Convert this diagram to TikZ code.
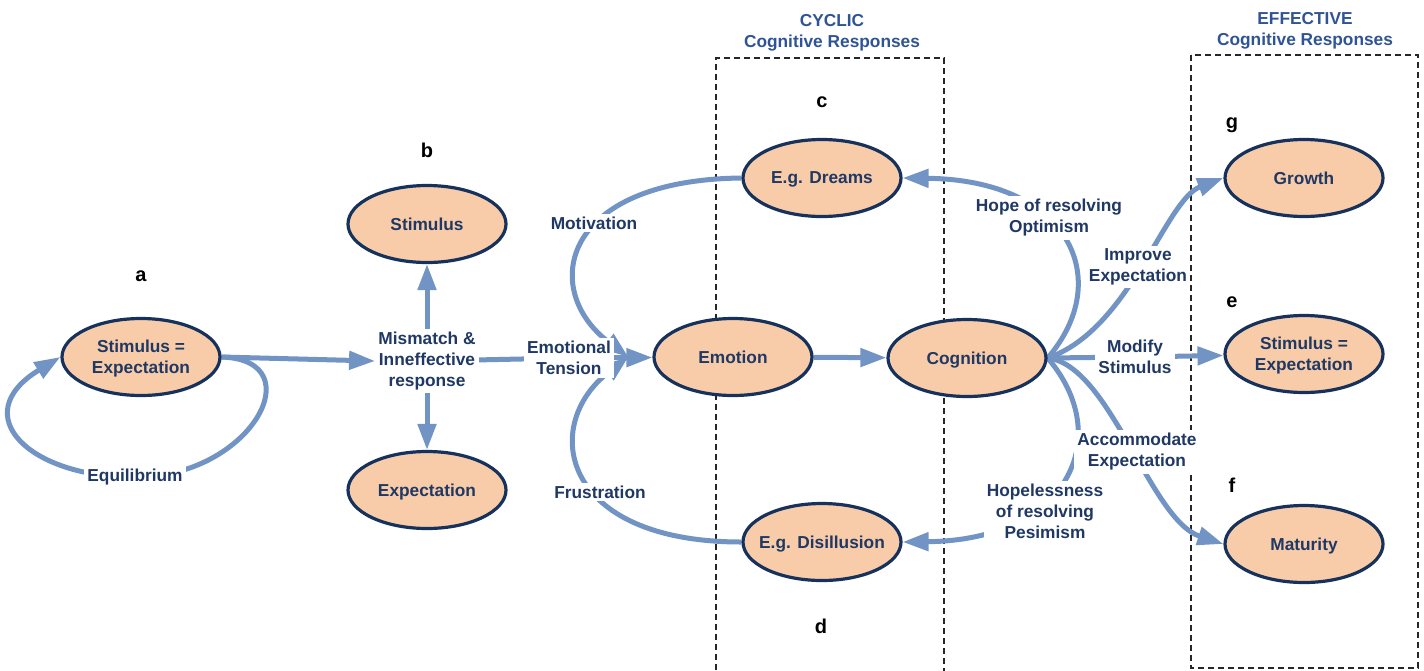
\documentclass[tikz,border=0pt]{standalone}
\usepackage{fontspec}
\setmainfont{Liberation Sans}
\usetikzlibrary{shapes.geometric,arrows.meta}
\pgfdeclarelayer{background}
\pgfsetlayers{background,main}
\definecolor{navy}{RGB}{31,56,100}
\definecolor{edgecol}{RGB}{22,50,92}
\definecolor{peach}{RGB}{248,204,168}
\definecolor{conncol}{RGB}{114,148,196}
\definecolor{ttl}{RGB}{47,84,150}
\newcommand\txtfont{\bfseries\fontsize{8.65}{10.5}\selectfont}
\newcommand\letfont{\bfseries\fontsize{10}{12}\selectfont}
\tikzset{
  state/.style={ellipse, draw=edgecol, line width=1.6pt, fill=peach, minimum width=79pt, minimum height=38.5pt, inner ysep=0pt, inner xsep=-6pt, text depth=0pt, text=navy, font=\txtfont, align=center},
  lbl/.style={text=navy, font=\txtfont, align=center, fill=white, inner sep=1.5pt},
  letter/.style={font=\letfont, anchor=base, text=black, inner sep=0pt},
  ttlstyle/.style={text=ttl, font=\txtfont, align=center, inner sep=0pt},
  flow/.style={draw=conncol, line width=2.5pt, -{Triangle[length=13pt,width=9pt]}},
  plain/.style={draw=conncol, line width=2.5pt},
  frame/.style={draw=black!85, line width=0.6pt, dash pattern=on 3pt off 2pt},
}
\begin{document}
\begin{tikzpicture}[x=0.5pt,y=-0.5pt]
\path[use as bounding box] (0,0) rectangle (1424,670);

% ellipses
\node[state] (a) at (141,357) {Stimulus =\\Expectation};
\node[state] (stim) at (427,224) {Stimulus};
\node[state] (expc) at (427,490) {Expectation};
\node[state] (dream) at (822,178) {E.g. Dreams};
\node[state] (emo) at (733,357) {Emotion};
\node[state] (cog) at (967,358) {Cognition};
\node[state] (dis) at (822,542) {E.g. Disillusion};
\node[state] (grow) at (1304,178) {Growth};
\node[state] (se) at (1304,354) {Stimulus =\\Expectation};
\node[state] (mat) at (1304,544) {Maturity};

% labels
\node[lbl] (eq) at (135,477) {Equilibrium};
\node[lbl] (mm) at (427,361) {Mismatch \&\\Inneffective\\response};
\node[lbl] (et) at (569,358) {Emotional\\Tension};
\node[lbl] (mot) at (594,223) {Motivation};
\node[lbl] (fru) at (600,492) {Frustration};
\node[lbl] (hope) at (1049,218) {Hope of resolving\\Optimism};
\node[lbl] (hopl) at (1045,511) {Hopelessness\\of resolving\\Pesimism};
\node[lbl] (imp) at (1138,267) {Improve\\Expectation};
\node[lbl] (mod) at (1135,357) {Modify\\Stimulus};
\node[lbl] (acc) at (1137,452) {Accommodate\\Expectation};

% titles
\node[ttlstyle] (t1) at (832,33) {CYCLIC\\Cognitive Responses};
\node[ttlstyle] (t2) at (1305,31) {EFFECTIVE\\Cognitive Responses};

% letters
\node[letter] (la) at (141,281) {a};
\node[letter] (lb) at (427,157) {b};
\node[letter] (lc) at (822,107) {c};
\node[letter] (ld) at (821,633) {d};
\node[letter] (lg) at (1232,128) {g};
\node[letter] (le) at (1232,307) {e};
\node[letter] (lf) at (1232,492) {f};

\begin{pgfonlayer}{background}
\draw[frame] (716,680) -- (716,58) -- (944,58) -- (944,680);
\draw[frame] (1191,55) rectangle (1418,668);

\draw[flow] (a.east) .. controls (315,360) and (250,478) .. (eq.center)
            .. controls (30,478) and (-35,415) .. (a.west);
\draw[flow] (a.east) -- (mm.west);
\draw[flow] (mm) -- (stim);
\draw[flow] (mm) -- (expc);
\draw[plain] (mm) -- (et);
\draw[flow] (et) -- (emo);
\draw[flow] (dream.west) .. controls (560,180) and (540,290) .. ([xshift=-12pt]emo.west);
\draw[flow] (dis.west) .. controls (560,542) and (540,425) .. ([xshift=-12pt]emo.west);
\draw[flow] (emo) -- (cog);
\draw[flow] (cog.east) .. controls (1115,280) and (1070,180) .. (dream.east);
\draw[flow] (cog.east) .. controls (1115,436) and (1070,540) .. (dis.east);
\draw[flow] (cog.east) .. controls (1130,330) and (1165,200) .. (grow.west);
\draw[plain] (cog.east) -- (mod);
\draw[flow] (mod) -- (se);
\draw[flow] (cog.east) .. controls (1110,365) and (1150,520) .. (mat.west);
\end{pgfonlayer}
\end{tikzpicture}
\end{document}
